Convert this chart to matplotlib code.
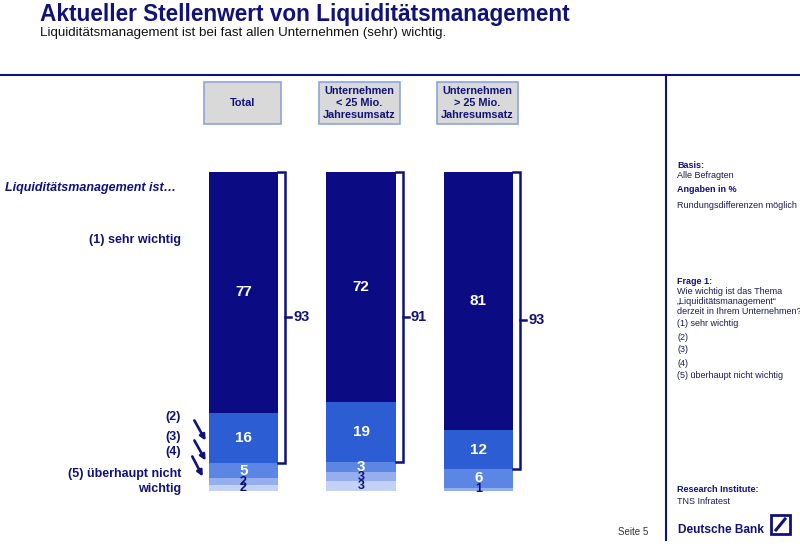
import matplotlib.pyplot as plt
from matplotlib.patches import Rectangle, FancyArrowPatch

plt.rcParams['font.family'] = ['Liberation Sans', 'DejaVu Sans']

NAVY = '#10127a'

# data
groups = ['Total', 'Unternehmen\n< 25 Mio.\nJahresumsatz', 'Unternehmen\n> 25 Mio.\nJahresumsatz']
levels = ['(1) sehr wichtig', '(2)', '(3)', '(4)', '(5) überhaupt nicht wichtig']
total_vals = [77, 16, 5, 2, 2]
small_vals = [72, 19, 3, 3, 3]
large_vals = [81, 12, 6, 1, 0]
top2_box = [93, 91, 93]
seg_colors = ['#0b0b84', '#2c5dd2', '#5b86e4', '#95aeee', '#c3d2f6']
label_colors = ['white', 'white', 'white', NAVY, NAVY]

fig = plt.figure(figsize=(8, 5.46), dpi=100)

# background axes in pixel coordinates for the slide furniture
bg = fig.add_axes([0, 0, 1, 1])
bg.set_xlim(0, 800)
bg.set_ylim(546, 0)
bg.axis('off')

bg.text(40, 14, 'Aktueller Stellenwert von Liquiditätsmanagement', color=NAVY,
        fontsize=16.3, fontweight='bold', va='center', ha='left')
bg.text(40, 33, 'Liquiditätsmanagement ist bei fast allen Unternehmen (sehr) wichtig.',
        color='#111111', fontsize=9.6, va='center', ha='left')
bg.plot([0, 800], [75, 75], color=NAVY, lw=1.5)
bg.plot([666, 666], [75, 540], color=NAVY, lw=1.5)

# header boxes
boxes = [(204, 82, 77), (319, 82, 81), (437, 82, 81)]
for (bx, by, bw), g in zip(boxes, groups):
    bg.add_patch(Rectangle((bx, by), bw, 42, facecolor='#d9d9d9', edgecolor='#8ea5d6', lw=1.2))
    bg.text(bx + bw / 2, by + 21, g, color=NAVY, fontsize=7.8, fontweight='bold',
            ha='center', va='center', linespacing=1.3)

# left annotations
bg.text(176, 188, 'Liquiditätsmanagement ist…', color=NAVY, fontsize=9,
        fontweight='bold', fontstyle='italic', ha='right', va='center')
bg.text(181, 240, levels[0], color=NAVY, fontsize=9, fontweight='bold', ha='right', va='center')
for txt, y in [('(2)', 417), ('(3)', 437), ('(4)', 452)]:
    bg.text(181, y, txt, color=NAVY, fontsize=9, fontweight='bold', ha='right', va='center')
bg.text(181, 474, '(5) überhaupt nicht', color=NAVY, fontsize=9, fontweight='bold', ha='right', va='center')
bg.text(181, 489, 'wichtig', color=NAVY, fontsize=9, fontweight='bold', ha='right', va='center')
for (x0, y0), (x1, y1) in [((193, 418), (207, 443)), ((193, 438), (207, 463)), ((191, 454), (204, 479))]:
    bg.add_patch(FancyArrowPatch((x0, y0), (x1, y1), arrowstyle='-|>', mutation_scale=8,
                                 color=NAVY, lw=1.9))

# right panel
side = [
    (166, 'Basis:', True), (176, 'Alle Befragten', False), (190, 'Angaben in %', True),
    (206, 'Rundungsdifferenzen möglich', False),
    (281, 'Frage 1:', True), (292, 'Wie wichtig ist das Thema', False),
    (302, '„Liquiditätsmanagement“', False), (312, 'derzeit in Ihrem Unternehmen?', False),
]
side += [(324 + 13 * i, lv, False) for i, lv in enumerate(levels)]
side += [(489, 'Research Institute:', True), (501, 'TNS Infratest', False)]
for y, txt, bold in side:
    bg.text(677, y, txt, color=NAVY if bold else '#1c1c50', fontsize=6.5,
            fontweight='bold' if bold else 'normal', ha='left', va='center')
bg.text(618, 532, 'Seite 5', color='#333333', fontsize=7, ha='left', va='center')
bg.text(678, 530, 'Deutsche Bank', color=NAVY, fontsize=8.6, fontweight='bold', ha='left', va='center')
bg.add_patch(Rectangle((771, 515), 19, 19, facecolor='none', edgecolor=NAVY, lw=2))
bg.plot([776, 785], [530, 519], color=NAVY, lw=2.2)

# bar axes
ax = fig.add_axes([184.75 / 800, 55 / 546, 352.5 / 800, 319 / 546])
ax.set_xlim(-0.5, 2.5)
ax.set_ylim(0, 100)
ax.axis('off')

w = 0.59
series = [total_vals, small_vals, large_vals]
for i, vals in enumerate(series):
    s = sum(vals)
    top = 100.0
    for k, v in enumerate(vals):
        h = v / s * 100
        if h <= 0:
            continue
        ax.bar(i, h, width=w, bottom=top - h, color=seg_colors[k], linewidth=0)
        ax.text(i, top - h / 2, str(v), color=label_colors[k],
                fontsize=11 if k < 3 else 9, fontweight='bold', ha='center', va='center')
        top -= h
    # bracket around (1)+(2)
    low = 100 - (vals[0] + vals[1]) / s * 100
    xr = i + w / 2
    xb = xr + 0.06
    ax.plot([xr, xb, xb, xr], [100, 100, low, low], color=NAVY, lw=1.8,
            clip_on=False, solid_joinstyle='miter')
    mid = (100 + low) / 2
    ax.plot([xb, xb + 0.05], [mid, mid], color=NAVY, lw=1.8, clip_on=False)
    ax.text(xb + 0.07, mid, str(top2_box[i]), color=NAVY, fontsize=10.5, fontweight='bold',
            ha='left', va='center')

fig.savefig('out.png', dpi=100)
